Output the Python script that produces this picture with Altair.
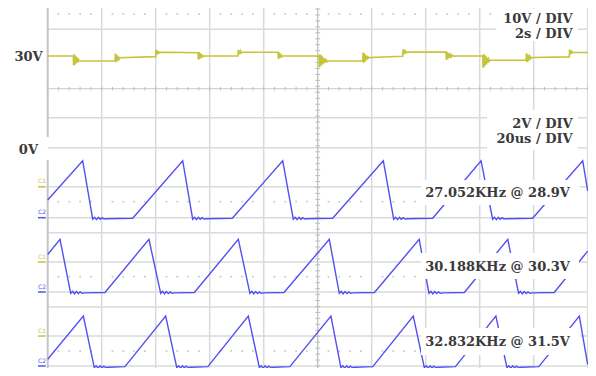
import altair as alt
import pandas as pd

# ---------------- data ----------------
# Upper trace: input voltage, 10 V/div, 2 s/div (time in s, value in V)
TOP_T = [0.0, 0.948,
         0.96, 0.98, 1.0, 1.02, 1.04, 1.06, 1.08, 1.10, 1.12, 1.14, 1.16,
         2.493,
         2.505, 2.525, 2.545, 2.565, 2.585, 2.605, 2.625, 2.645, 2.665,
         4.0,
         4.01, 4.03, 4.05, 4.07, 4.09, 4.11, 4.13,
         5.567,
         5.58, 5.60, 5.62, 5.64, 5.66, 5.68, 5.70, 5.72, 5.74, 5.77,
         7.048,
         7.06, 7.08, 7.10, 7.12, 7.14, 7.16, 7.19,
         8.53,
         8.545, 8.565, 8.585, 8.605, 8.625, 8.645, 8.67, 8.70,
         10.048,
         10.06, 10.08, 10.10, 10.12, 10.14, 10.16, 10.18, 10.20, 10.22, 10.25,
         10.28, 10.31, 10.35, 10.40,
         11.667,
         11.68, 11.70, 11.72, 11.74, 11.76, 11.78, 11.80, 11.83, 11.86, 11.90, 11.94,
         13.148,
         13.16, 13.18, 13.20, 13.22, 13.24, 13.27, 13.30,
         14.752,
         14.765, 14.785, 14.805, 14.825, 14.845, 14.865, 14.89, 14.92, 14.95,
         14.99, 15.05, 15.12,
         16.111,
         16.125, 16.145, 16.165, 16.185, 16.205, 16.225, 16.25, 16.275, 16.30,
         16.33, 16.36, 16.40,
         17.715,
         17.73, 17.75, 17.77, 17.79, 17.81, 17.83, 17.86, 17.89, 17.93,
         19.319,
         19.33, 19.35, 19.37, 19.39, 19.41, 19.44, 19.47,
         20.0]
TOP_V = [30.0, 30.0,
         26.8, 30.6, 27.0, 30.2, 27.4, 29.8, 27.7, 29.3, 28.0, 28.8, 28.35,
         28.35,
         30.8, 27.9, 30.5, 28.2, 30.1, 28.6, 29.8, 29.0, 29.4,
         29.8,
         32.2, 30.4, 31.9, 30.7, 31.6, 31.0, 31.3,
         31.1,
         28.8, 31.3, 29.0, 31.0, 29.3, 30.7, 29.5, 30.4, 29.8, 30.0,
         30.0,
         32.1, 30.5, 31.9, 30.8, 31.6, 31.0, 31.25,
         31.25,
         29.0, 31.2, 29.2, 30.9, 29.5, 30.5, 29.8, 30.0,
         30.0,
         26.2, 30.6, 26.5, 30.3, 26.9, 29.9, 27.2, 29.5, 27.5, 29.1,
         27.8, 28.8, 28.1, 28.3,
         28.3,
         31.2, 27.7, 30.9, 28.0, 30.5, 28.4, 30.1, 28.8, 29.7, 29.3, 29.5,
         29.9,
         32.3, 30.5, 32.0, 30.8, 31.7, 31.1, 31.3,
         31.3,
         28.7, 31.4, 28.9, 31.1, 29.2, 30.8, 29.4, 30.5, 29.7,
         30.3, 29.9, 30.0,
         30.0,
         26.0, 30.7, 26.4, 30.3, 26.8, 29.9, 27.2, 29.5, 27.7,
         29.0, 28.3, 28.6,
         28.6,
         30.9, 27.9, 30.6, 28.2, 30.2, 28.6, 29.9, 29.1, 29.5,
         29.7,
         32.2, 30.5, 31.9, 30.8, 31.5, 31.1, 31.2,
         31.2]

# Lower traces: 2 V/div, 20 us/div (time in us, value in V)
B1_T = [0, 12.96, 16.67, 31.48, 50.0, 53.7, 68.37, 87.04, 90.96, 105.56,
        124.3, 128.15, 142.6, 160.5, 164.8, 179.6, 198.15, 200.0]
B1_V = [1.19, 3.83, -0.1, -0.04, 3.83, -0.1, -0.04, 3.83, -0.1, -0.04,
        3.83, -0.1, -0.04, 3.83, -0.1, -0.04, 3.83, 1.8]
B2_T = [0, 4.56, 8.52, 21.2, 37.5, 41.85, 54.3, 70.6, 74.9, 87.5, 104.3,
        108.0, 121.0, 137.6, 141.2, 154.3, 170.4, 174.4, 187.6, 200.0]
B2_V = [2.52, 3.54, -0.09, -0.03, 3.54, -0.09, -0.03, 3.54, -0.09, -0.03,
        3.54, -0.09, -0.03, 3.54, -0.09, -0.03, 3.54, -0.09, -0.03, 2.75]
B3_T = [0, 13.2, 17.26, 28.6, 43.7, 47.8, 59.3, 74.3, 78.4, 89.7, 104.9,
        108.6, 120.4, 135.4, 139.5, 151.0, 166.0, 170.1, 181.9, 196.9, 200.0]
B3_V = [0.45, 3.36, -0.11, -0.04, 3.36, -0.11, -0.04, 3.36, -0.11, -0.04,
        3.36, -0.11, -0.04, 3.36, -0.11, -0.04, 3.36, -0.11, -0.04, 3.36, 0.1]
# small ringing after each falling edge (us after the edge, V)
RIP_DT = [0.7, 1.4, 2.1, 2.8, 3.5, 4.2, 5.2]
RIP_V = [0.07, -0.09, 0.06, -0.07, 0.04, -0.05, -0.03]

FREQ_LABELS = ["27.052KHz @ 28.9V", "30.188KHz @ 30.3V", "32.832KHz @ 31.5V"]
SCALE_LABELS = ["10V / DIV", "2s / DIV", "2V / DIV", "20us / DIV"]
LEVEL_LABELS = ["30V", "0V"]

# ---------------- layout (screen divisions) ----------------
BAND_OFF = [4.985, 2.487, 0.0]       # C2 ground of each lower band
TOP_OFF = 10.42                      # position of 30 V on the upper trace
YEL = "#c6c43c"
BLUE = "#5151f2"
GRID = "#dadada"
TXT = "#3a3a3a"

X0, X1 = -0.7352, 10.0056
Y0, Y1 = -0.067, 12.034
xs = alt.Scale(domain=[X0, X1], nice=False, zero=False)
ys = alt.Scale(domain=[Y0, Y1], nice=False, zero=False)


def X(f="x"):
    return alt.X(f + ":Q", scale=xs, axis=None)


def Y(f="y"):
    return alt.Y(f + ":Q", scale=ys, axis=None)


def rules(rows, color, width):
    df = pd.DataFrame(rows, columns=["x", "x2", "y", "y2"])
    return alt.Chart(df).mark_rule(color=color, strokeWidth=width).encode(
        x=X(), x2="x2:Q", y=Y(), y2="y2:Q")


# grid
TOPY = 12.11
hsolid = [11.318, 8.346, 7.338, 6.024, 4.985, 4.481, 3.496, 2.487, 1.983, 1.008, 0.0]
hrows = [(0, 10, y, y) for y in hsolid]
vrows = [(k, k, TOPY, Y0) for k in range(1, 10) if k != 5]
vrows += [(10, 10, TOPY, Y0)]
grid = rules(hrows + vrows, GRID, 1.5)
left = rules([(0, 0, TOPY, 7.697), (0, 0, 6.924, Y0)], "#c4c4c4", 2)
center_v = rules([(5, 5, TOPY, Y0)], "#c8c8c8", 1.5)
center_h = rules([(0, 10, 9.321, 9.321)], "#d4d4d4", 1.2)

# minor ticks on the centre lines and dotted rows
tick_rows = []
yy = 0.0
while yy < TOPY:
    tick_rows.append((4.955, 5.045, yy, yy))
    yy += 0.2
for k in range(51):
    xv = k * 0.2
    tick_rows.append((xv, xv, 9.321 - 0.06, 9.321 + 0.06))
ticks = rules(tick_rows, "#bdbdbd", 1)

dot_rows = []
for yv in [11.832, 5.523, 3.002, 0.504]:
    for k in range(51):
        if k % 5:
            dot_rows.append({"x": k * 0.2, "y": yv})
dots = alt.Chart(pd.DataFrame(dot_rows)).mark_square(
    size=3, color="#c9c9c9", opacity=1).encode(x=X(), y=Y())

# traces
top_df = pd.DataFrame({"t": TOP_T, "v": TOP_V})
top_df["x"] = top_df["t"] / 2.0
top_df["y"] = TOP_OFF + (top_df["v"] - 30.0) / 10.0
top_df["o"] = range(len(top_df))
top_line = alt.Chart(top_df).mark_line(color=YEL, strokeWidth=1.6).encode(
    x=X(), y=Y(), order="o:Q")

rows = []
for b, (T, V) in enumerate([(B1_T, B1_V), (B2_T, B2_V), (B3_T, B3_V)]):
    pts = []
    for t, v in zip(T, V):
        pts.append((t, v))
        if v <= -0.09:
            for dt, dv in zip(RIP_DT, RIP_V):
                pts.append((t + dt, v + 0.06 + dv))
    for i, (t, v) in enumerate(pts):
        rows.append({"band": b, "o": i, "x": t / 20.0,
                     "y": BAND_OFF[b] + v / 2.0})
bot_df = pd.DataFrame(rows)
bot_line = alt.Chart(bot_df).mark_line(color=BLUE, strokeWidth=1.4).encode(
    x=X(), y=Y(), detail="band:N", order="o:Q")

# white label boxes
boxes = pd.DataFrame([
    (8.302, 9.82, 10.924, 12.0),
    (8.135, 9.82, 7.26, 8.605),
    (6.913, 9.857, 5.412, 6.252),
    (6.913, 9.84, 2.924, 3.798),
    (6.913, 9.857, 0.370, 1.277),
], columns=["x", "x2", "y", "y2"])
box = alt.Chart(boxes).mark_rect(color="white").encode(
    x=X(), x2="x2:Q", y=Y(), y2="y2:Q")

# texts
FONT = "DejaVu Serif"
sc_df = pd.DataFrame({"x": [9.722] * 4, "y": [11.664, 11.16, 8.134, 7.64],
                      "t": SCALE_LABELS})
sc_txt = alt.Chart(sc_df).mark_text(align="right", baseline="middle",
                                    font=FONT, fontSize=13, fontWeight="bold",
                                    color=TXT).encode(x=X(), y=Y(), text="t:N")
fq_df = pd.DataFrame({"x": [6.993] * 3, "y": [5.805, 3.338, 0.817],
                      "t": FREQ_LABELS})
fq_txt = alt.Chart(fq_df).mark_text(align="left", baseline="middle",
                                    font=FONT, fontSize=13, fontWeight="bold",
                                    color=TXT).encode(x=X(), y=Y(), text="t:N")
lv_df = pd.DataFrame({"x": [-0.0926, -0.18], "y": [10.387, 7.26],
                      "t": LEVEL_LABELS})
lv_txt = alt.Chart(lv_df).mark_text(align="right", baseline="middle",
                                    font=FONT, fontSize=13, fontWeight="bold",
                                    color=TXT).encode(x=X(), y=Y(), text="t:N")

c1y = [6.024, 3.496, 1.008]
c2y = [4.985, 2.487, 0.0]
c1_marks = rules([(-0.18, -0.035, y, y) for y in c1y], YEL, 1.5)
c2_marks = rules([(-0.18, -0.035, y, y) for y in c2y], BLUE, 1.5)
c1_txt = alt.Chart(pd.DataFrame({"x": [-0.18] * 3, "y": [y + 0.08 for y in c1y],
                                 "t": ["C1"] * 3})).mark_text(
    align="left", baseline="bottom", fontSize=6, font="DejaVu Sans",
    color=YEL).encode(x=X(), y=Y(), text="t:N")
c2_txt = alt.Chart(pd.DataFrame({"x": [-0.18] * 3, "y": [y + 0.08 for y in c2y],
                                 "t": ["C2"] * 3})).mark_text(
    align="left", baseline="bottom", fontSize=6, font="DejaVu Sans",
    color=BLUE).encode(x=X(), y=Y(), text="t:N")

chart = alt.layer(
    grid, left, center_h, center_v, ticks, dots,
    top_line, bot_line, box,
    sc_txt, fq_txt, lv_txt, c1_marks, c2_marks, c1_txt, c2_txt,
).properties(
    width=580, height=360,
    autosize=alt.AutoSizeParams(type="none"), padding=0,
).configure_view(strokeWidth=0)

chart.save("out.html", embed_options={"renderer": "svg", "actions": False})
